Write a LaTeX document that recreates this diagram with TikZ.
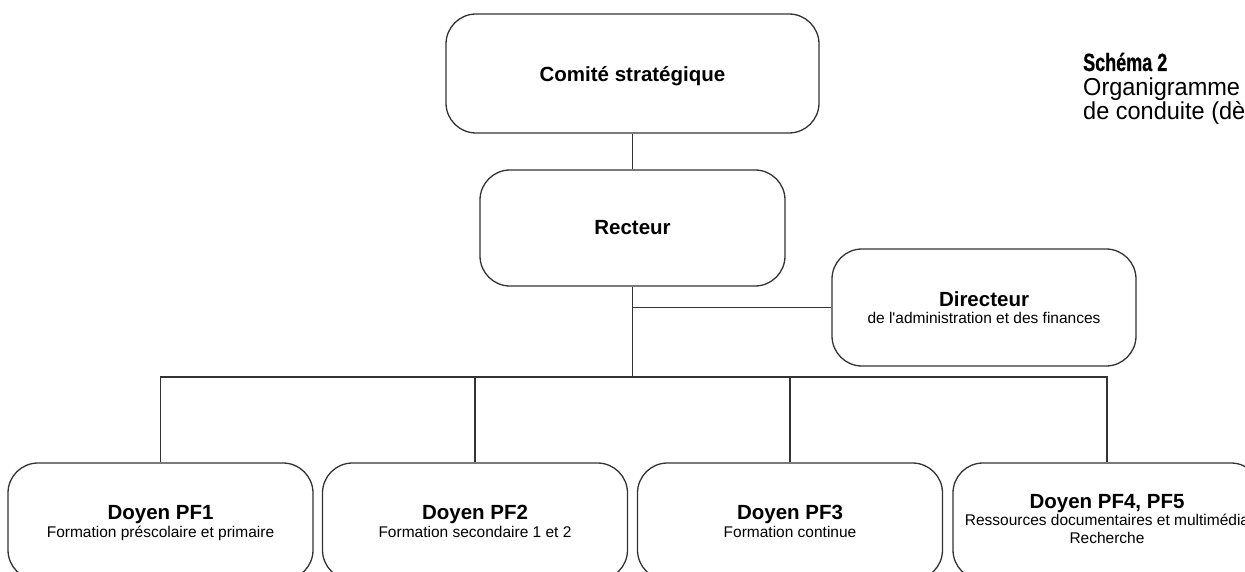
\documentclass[tikz,border=0pt]{standalone}
\usepackage{fontspec}
\setmainfont{Liberation Sans}
\newfontfamily\condfont[FakeStretch=0.96]{Liberation Sans}
\newfontfamily\condbold[FakeStretch=0.72,FakeBold=0.6]{Liberation Sans Bold}
\definecolor{linec}{HTML}{333333}
\begin{document}
\begin{tikzpicture}[x=1pt,y=-1pt,
  box/.style={draw=linec, line width=1.3pt, rounded corners=30pt, align=center, inner sep=0pt,
    font=\fontsize{15.5}{17.5}\selectfont},
  bigbox/.style={box, minimum width=305, minimum height=117, text depth=0pt},
  conn/.style={draw=linec, line width=1.3pt},
  capt/.style={anchor=base west, inner sep=0pt, font=\condfont\fontsize{24.5}{24}\selectfont}]
\useasboundingbox (0,0) rectangle (1245,572);
\clip (0,0) rectangle (1245,572);
\newcommand{\hd}[1]{{\fontsize{20.5}{17.5}\selectfont\bfseries #1}}

\node[box, minimum width=373, minimum height=119, text depth=0pt] (comite) at (632.5,73.5) {\hd{Comité stratégique}};
\node[box, minimum width=305, minimum height=116] (recteur) at (632.5,228) {\hd{Recteur}};
\node[box, minimum width=304, minimum height=117] (dir) at (984,307.5) {\hd{Directeur}\\de l\textquotesingle administration et des finances};

\node[bigbox] (d1) at (160.5,521.5) {\hd{Doyen PF1}\\Formation préscolaire et primaire};
\node[bigbox] (d2) at (475,521.5) {\hd{Doyen PF2}\\Formation secondaire 1 et 2};
\node[bigbox] (d3) at (790,521.5) {\hd{Doyen PF3}\\Formation continue};
\node[bigbox, minimum width=308, text depth=6pt] (d4) at (1107,521.5) {\hd{Doyen PF4, PF5}\\Ressources documentaires et multimédia\\Recherche};

\coordinate (bus) at (632.5,377);
\coordinate (jd) at (632.5,307.5);
\draw[conn] (comite.south) -- (recteur.north);
\draw[conn] (recteur.south) -- (bus);
\draw[conn] (jd) -- (dir.west);
\draw[conn] (d1.north) |- (bus) -| (d4.north);
\draw[conn] (d2.north) -- (d2.north |- bus);
\draw[conn] (d3.north) -- (d3.north |- bus);

\node[capt, font=\condbold\fontsize{25}{24}\selectfont] (t1) at (1083,71) {Schéma 2};
\node[capt] (t2) at (1083,96) {Organigramme};
\node[capt] (t3) at (1083,120) {de conduite (dès};
\end{tikzpicture}
\end{document}
